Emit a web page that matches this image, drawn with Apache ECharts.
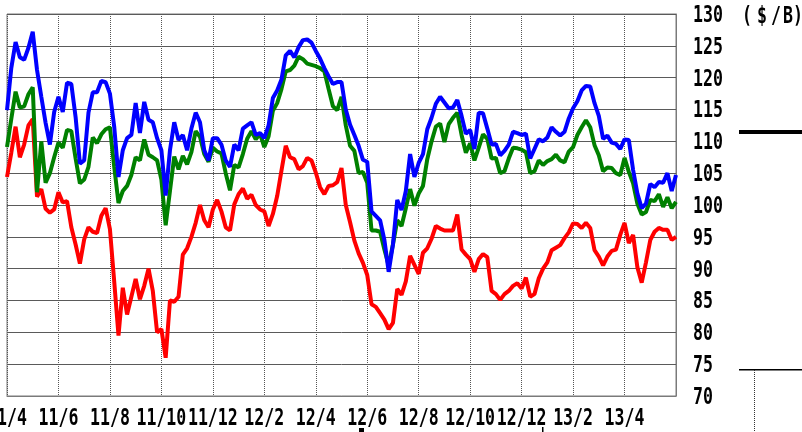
<!DOCTYPE html>
<html>
<head>
<meta charset="utf-8">
<script src="https://cdn.jsdelivr.net/npm/echarts@6/dist/echarts.min.js"></script>
<style>
html,body{margin:0;padding:0;background:#fff;}
#c{width:802px;height:432px;}
</style>
</head>
<body>
<div id="c"></div>
<script>
// Two-month tick labels (one every 12 samples)
const tickLabels = ['11/4','11/6','11/8','11/10','11/12','12/2','12/4','12/6','12/8','12/10','12/12','13/2','13/4'];
const samplesPerTick = 12;
const sampleCount = 157;
const yMin = 70, yMax = 130, yStep = 5;

// Blue series ($/B)
const blue = [114.9,121.5,125.6,123.2,122.8,124.7,127.2,121.2,117,112.9,109.5,114.6,117,114.6,119.2,119,113.8,106.5,107,114.5,
117.7,117.7,119.5,119.3,117.5,112.3,104.4,108.6,110.5,111,116,111.3,116.2,113.4,113,110.5,108.6,101.5,108.6,113,
110.2,111,108.6,112,114.5,113,108.6,107,110.5,110.5,109.5,107,106,109.5,108.6,112,112.5,113,111,111.3,
110.5,112.5,116.8,118,119.7,123.5,124.2,123.2,124.8,125.9,126,125.5,124.2,123,121.5,120.2,119,119.3,119.3,115,
112.6,111,109.3,107.1,106.8,99,98.3,97.6,94.5,89.5,93.8,100.8,99.2,102.2,108,104.4,106.6,108,111.9,113.7,
115.9,117,116.1,115.2,115.3,116.5,114,111.2,111.8,108.8,114.5,114.4,112,109.5,109.6,107.8,108.5,109.5,111.5,111.3,
111,111.2,107.3,108.8,110.3,110,110.6,112.2,111.5,110.9,111.5,113.6,115.2,116.3,118,118.7,118.6,116,114,110.4,
110.9,109.8,109.6,108.8,110.3,110.2,105.5,101.8,99.5,100.2,103.3,102.8,103.6,103.5,105,102.2,104.7];

// Green series ($/B)
const green = [109.1,113.5,117.8,115.3,115.5,117.4,118.5,102,110,103.5,105,107.5,109.8,109,111.8,111.6,107.3,103.4,104,106,
110.6,109.7,111.1,111.9,112.2,106,100.3,102.2,103,104.7,107.5,107,110.3,107.9,107.5,107,104,96.8,102.2,107.6,
105.6,107.7,106.4,108.3,111.6,110.7,108,106.8,109,108.4,108.1,105,102.3,106.3,105.9,108,110.4,111.6,110.3,111.2,
109.1,110.8,114.8,116,118.2,121,121.2,121.9,123.3,122.9,122.2,122,121.8,121.5,121,118.2,115.5,114.9,117,112.5,
109.3,108.5,105,105.2,103.5,96,96,95.8,93,90.5,93.8,97.6,96.7,99.5,102.5,99.9,101.8,103,107.2,110,
112.3,112.8,109.9,112.7,113.7,114.5,111,108.2,109.7,107,109,111.1,110.4,107.3,107.4,105,105.3,107.3,109,108.9,
108.7,108.3,105,105.3,107,106.3,106.9,107.2,107.9,107,106.7,108.4,109.1,111,112.2,113.3,112.2,109.4,107.8,105.3,
105.9,105.8,105,104.7,107.4,105.2,103.4,100.2,98.5,98.9,100.8,100.6,101.7,99.7,101.2,99.5,100.5];

// Red series ($/B)
const red = [104.4,108.2,112.3,107.5,109.5,112.5,113.5,101.3,102.5,99.4,98.8,99.3,102,100.4,100.6,96.5,93.8,90.8,94.6,96.5,
95.8,95.6,98.3,99.5,96.2,88,79.5,87,82.8,85.6,88.4,85.2,87.3,90,86.5,80,80.5,76,85,84.8,
85.6,92.2,93.2,95,97.2,100,97.6,96.5,99.3,100.8,99,96.5,96,100.1,101.7,102.6,101,101.6,100,99.3,
99,96.7,98.6,101.4,105.4,109.3,107.5,107.2,105.6,106.1,107.4,107,105.1,102.8,101.7,103,103.1,103.6,105.8,100,
97.3,94.4,92.4,90.9,89,84.4,84,83,82,80.5,81.5,86.8,85.9,88,92,90.6,89.2,92.5,93.2,94.7,
96.7,96.3,96,96,96,98.5,93,92.2,91.5,89.5,91.5,92.3,91.8,86.5,86,85.1,86,86.5,87.3,87.7,
86.9,88.6,85.6,86,88.5,90,91,92.9,93.3,93.7,94.8,95.7,97.1,97,96.4,97.2,96.4,92.9,91.9,90.5,
91.9,92.8,93,95.3,97.2,94,95.3,90.2,87.8,91,94.5,95.8,96.4,96.1,96.1,94.5,95];

const unitLabel = '($/B)';

const categories = [];
for (let i = 0; i < sampleCount; i++) {
  const k = i / samplesPerTick;
  categories.push(Number.isInteger(k) && k < tickLabels.length ? tickLabels[k] : '');
}
const isTick = (i) => i % samplesPerTick === 0 && i / samplesPerTick < tickLabels.length;

const FONT = "'DejaVu Sans Mono', 'Liberation Mono', monospace";
const LABEL_FONT = "bold 23px " + FONT;
const SX = 0.72;
const chart = echarts.init(document.getElementById('c'), null, {renderer: 'canvas'});

chart.setOption({
  animation: false,
  backgroundColor: '#ffffff',
  grid: {left: 7, top: 14, right: 126, bottom: 36, show: true, borderColor: '#7a7a7a', borderWidth: 1, containLabel: false, outerBoundsMode: 'none'},
  xAxis: {
    type: 'category',
    data: categories,
    boundaryGap: false,
    axisLine: {show: true, lineStyle: {color: '#7a7a7a', width: 1}},
    axisTick: {show: false},
    axisLabel: {show: false},
    splitLine: {show: true, interval: (i) => isTick(i), lineStyle: {color: '#555', width: 1, type: [1, 1]}}
  },
  yAxis: {
    type: 'value',
    position: 'right',
    min: yMin, max: yMax, interval: yStep,
    axisLine: {show: true, lineStyle: {color: '#7a7a7a'}},
    axisTick: {show: false},
    axisLabel: {show: false},
    splitLine: {show: true, lineStyle: {color: '#5a5a5a', width: 1}}
  },
  series: [
    {name: 'red', type: 'line', data: red, symbol: 'none', lineStyle: {color: '#ff0000', width: 4}, z: 2},
    {name: 'green', type: 'line', data: green, symbol: 'none', lineStyle: {color: '#008000', width: 4}, z: 3},
    {name: 'blue', type: 'line', data: blue, symbol: 'none', lineStyle: {color: '#0000ff', width: 4}, z: 4}
  ]
});

// Axis labels placed through the axes' own scales, drawn as narrow text
const graphics = [];
tickLabels.forEach((t, k) => {
  const px = chart.convertToPixel({xAxisIndex: 0}, k * samplesPerTick);
  graphics.push({type: 'text', x: px, y: 419, scaleX: SX,
    style: {text: t, fill: '#000', font: LABEL_FONT, align: 'center', verticalAlign: 'middle'}});
});
for (let v = yMin; v <= yMax; v += yStep) {
  const py = chart.convertToPixel({yAxisIndex: 0}, v);
  graphics.push({type: 'text', x: 693, y: py + 2, scaleX: SX,
    style: {text: String(v), fill: '#000', font: LABEL_FONT, align: 'left', verticalAlign: 'middle'}});
}
const unitChars = unitLabel.split('');
const unitX = [747, 762, 776, 788, 798];
unitChars.forEach((ch, j) => {
  graphics.push({type: 'text', x: unitX[j], y: 17, scaleX: SX,
    style: {text: ch, fill: '#000', font: LABEL_FONT, align: 'center', verticalAlign: 'middle'}});
});
graphics.push(
  {type: 'rect', shape: {x: 739, y: 130, width: 63, height: 4}, style: {fill: '#000'}},
  {type: 'rect', shape: {x: 739, y: 369, width: 63, height: 1.5}, style: {fill: '#000'}},
  {type: 'line', shape: {x1: 754.5, y1: 370, x2: 754.5, y2: 432}, style: {stroke: '#333', lineWidth: 1, lineDash: [1, 1]}},
  {type: 'rect', shape: {x: 359, y: 428, width: 5, height: 4}, style: {fill: '#000'}},
  {type: 'rect', shape: {x: 542, y: 427, width: 1.5, height: 5}, style: {fill: '#000'}}
);
chart.setOption({graphic: graphics});
</script>
</body>
</html>
